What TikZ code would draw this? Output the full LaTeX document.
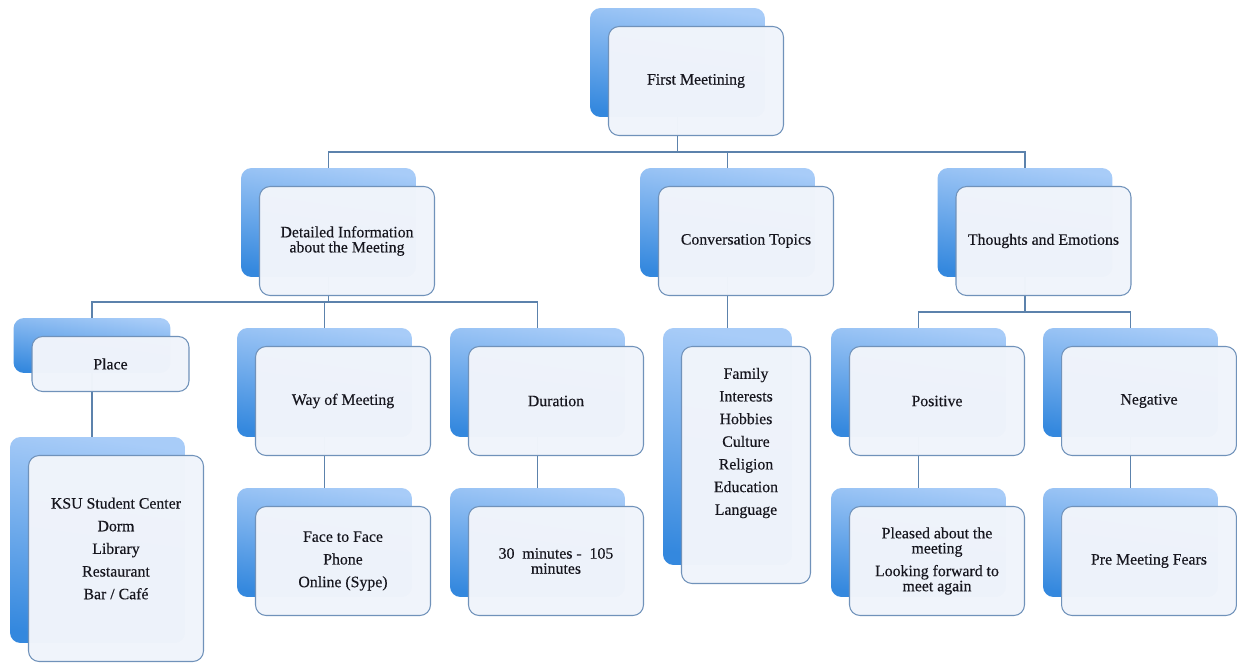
\documentclass[tikz,border=0pt]{standalone}
\usepackage{fontspec}
\setmainfont{Liberation Serif}[BoldFont=Liberation Serif, BoldFeatures={FakeBold=0.35}]
\usetikzlibrary{positioning}
\pgfdeclarelayer{bg}
\pgfsetlayers{bg,main}
\definecolor{backtop}{RGB}{168,204,248}
\definecolor{backbot}{RGB}{52,136,222}
\definecolor{frontfill}{RGB}{240,244,251}
\definecolor{frontline}{RGB}{112,146,186}
\definecolor{linkcol}{RGB}{92,130,172}
\definecolor{txt}{RGB}{22,22,30}

\begin{document}
\begin{tikzpicture}[x=0.02cm, y=-0.02cm,
  back/.style={rectangle, rounded corners=6pt, inner sep=0pt, top color=backtop, bottom color=backbot, shading angle=-8, minimum width=3.5cm, minimum height=2.18cm},
  front/.style={rectangle, rounded corners=6pt, draw=frontline, line width=0.6pt, fill=frontfill, fill opacity=0.985, text opacity=1, text=txt, align=center, inner sep=2pt, minimum width=3.5cm, minimum height=2.18cm, font=\fontsize{9}{8.6}\selectfont\bfseries},
  listtext/.style={align=center, text=txt, inner sep=0pt, font=\fontsize{9}{8.6}\selectfont\bfseries},
  link/.style={draw=linkcol, line width=0.7pt}]
\useasboundingbox (0,0) rectangle (1237,666);

% top level
\node [back] (meetb) at (677.5,62.5) {};
\node [front] (meetf) at ([xshift=0.37cm,yshift=-0.37cm]meetb.center) {First Meetining};

% second level
\node [back] (infob) at (328.5,222.5) {};
\node [front] (infof) at ([xshift=0.37cm,yshift=-0.37cm]infob.center) {Detailed Information\\about the Meeting};
\node [back] (convb) at (727.5,222.5) {};
\node [front] (convf) at ([xshift=0.37cm,yshift=-0.37cm]convb.center) {Conversation Topics};
\node [back] (thob) at (1025,222.5) {};
\node [front] (thof) at ([xshift=0.37cm,yshift=-0.37cm]thob.center) {Thoughts and Emotions};

% third level
\node [back, minimum width=3.14cm, minimum height=1.1cm] (placeb) at (92,345.5) {};
\node [front, minimum width=3.14cm, minimum height=1.1cm] (placef) at ([xshift=0.37cm,yshift=-0.37cm]placeb.center) {Place};
\node [back] (wayb) at (324.5,382.5) {};
\node [front] (wayf) at ([xshift=0.37cm,yshift=-0.37cm]wayb.center) {Way of Meeting};
\node [back] (durb) at (537.5,382.5) {};
\node [front] (durf) at ([xshift=0.37cm,yshift=-0.37cm]durb.center) {Duration};
\node [back, minimum width=2.58cm, minimum height=4.74cm] (topicb) at (727.5,446.5) {};
\node [front, minimum width=2.58cm, minimum height=4.74cm] (topicf) at ([xshift=0.37cm,yshift=-0.37cm]topicb.center) {};
\node [listtext] (topict) at ([yshift=0.44cm]topicf.center) {Family\\[4.3pt]Interests\\[4.3pt]Hobbies\\[4.3pt]Culture\\[4.3pt]Religion\\[4.3pt]Education\\[4.3pt]Language};
\node [back] (posb) at (918.5,382.5) {};
\node [front] (posf) at ([xshift=0.37cm,yshift=-0.37cm]posb.center) {Positive};
\node [back] (negb) at (1130.5,382.5) {};
\node [front] (negf) at ([xshift=0.37cm,yshift=-0.37cm]negb.center) {Negative};

% fourth level
\node [back, minimum height=4.12cm] (ksub) at (97.5,540) {};
\node [front, minimum height=4.12cm] (ksuf) at ([xshift=0.37cm,yshift=-0.37cm]ksub.center) {};
\node [listtext] (ksut) at ([yshift=0.2cm]ksuf.center) {KSU Student Center\\[4.3pt]Dorm\\[4.3pt]Library\\[4.3pt]Restaurant\\[4.3pt]Bar / Café};
\node [back] (faceb) at (324.5,542.5) {};
\node [front] (facef) at ([xshift=0.37cm,yshift=-0.37cm]faceb.center) {Face to Face\\[4.3pt]Phone\\[4.3pt]Online (Sype)};
\node [back] (minb) at (537.5,542.5) {};
\node [front] (minf) at ([xshift=0.37cm,yshift=-0.37cm]minb.center) {30\ \ minutes -\ \ 105\\minutes};
\node [back] (pleasb) at (918.5,542.5) {};
\node [front] (pleasf) at ([xshift=0.37cm,yshift=-0.37cm]pleasb.center) {Pleased about the\\meeting\\[4.3pt]Looking forward to\\meet again};
\node [back] (fearb) at (1130.5,542.5) {};
\node [front] (fearf) at ([xshift=0.37cm,yshift=-0.37cm]fearb.center) {Pre Meeting Fears};

% connectors, behind the boxes
\begin{pgfonlayer}{bg}
\coordinate (j0) at (677.5,152);
\coordinate (j1) at (328.5,302);
\coordinate (j2) at (1025,312);
\draw [link] (meetb.center) -- (j0) -| (infob.north);
\draw [link] (j0) -| (convb.north);
\draw [link] (j0) -| (thob.north);
\draw [link] (infob.center) -- (j1) -| (placeb.north);
\draw [link] (j1) -| (wayb.north);
\draw [link] (j1) -| (durb.north);
\draw [link] (convb.center) -- (topicb.north);
\draw [link] (thob.center) -- (j2) -| (posb.north);
\draw [link] (j2) -| (negb.north);
\draw [link] (placeb.center) -- (placeb.center |- ksub.north);
\draw [link] (wayb.center) -- (faceb.north);
\draw [link] (durb.center) -- (minb.north);
\draw [link] (posb.center) -- (pleasb.north);
\draw [link] (negb.center) -- (fearb.north);
\end{pgfonlayer}
\end{tikzpicture}
\end{document}
